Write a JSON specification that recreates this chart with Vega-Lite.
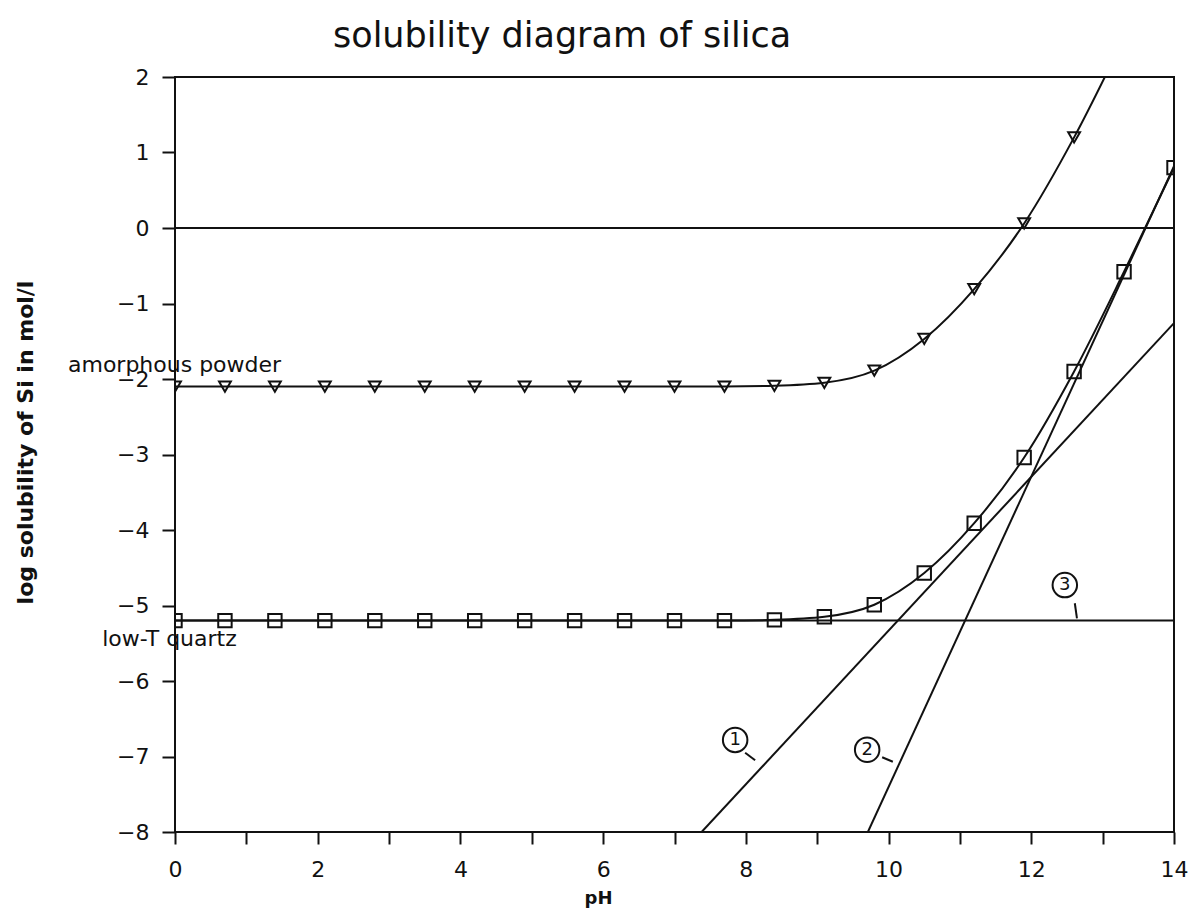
{
  "$schema": "https://vega.github.io/schema/vega-lite/v6.json",
  "width": 999,
  "height": 755,
  "autosize": {"type": "none"},
  "padding": {"left": 175, "top": 77, "right": 23, "bottom": 83},
  "background": "white",
  "config": {
    "view": {"stroke": "#111", "strokeWidth": 2},
    "font": "DejaVu Sans",
    "axis": {"grid": false, "domain": false, "tickColor": "#111", "tickWidth": 2, "labelColor": "#111", "titleColor": "#111", "labelFont": "DejaVu Sans", "titleFont": "DejaVu Sans", "labelFlush": false}
  },
  "title": {
    "text": "solubility diagram of silica",
    "anchor": "start",
    "frame": "group",
    "dx": 158,
    "dy": -8,
    "fontSize": 35,
    "fontWeight": "normal",
    "font": "DejaVu Sans",
    "color": "#111"
  },
  "datasets": {
    "curves": [
      {"phase": "amorphous", "pH": 0, "logS": -2.1},
      {"phase": "amorphous", "pH": 0.7, "logS": -2.1},
      {"phase": "amorphous", "pH": 1.4, "logS": -2.1},
      {"phase": "amorphous", "pH": 2.1, "logS": -2.1},
      {"phase": "amorphous", "pH": 2.8, "logS": -2.1},
      {"phase": "amorphous", "pH": 3.5, "logS": -2.1},
      {"phase": "amorphous", "pH": 4.2, "logS": -2.1},
      {"phase": "amorphous", "pH": 4.9, "logS": -2.1},
      {"phase": "amorphous", "pH": 5.6, "logS": -2.1},
      {"phase": "amorphous", "pH": 6.3, "logS": -2.1},
      {"phase": "amorphous", "pH": 7.0, "logS": -2.1},
      {"phase": "amorphous", "pH": 7.7, "logS": -2.1},
      {"phase": "amorphous", "pH": 8.4, "logS": -2.09},
      {"phase": "amorphous", "pH": 9.1, "logS": -2.05},
      {"phase": "amorphous", "pH": 9.8, "logS": -1.89},
      {"phase": "amorphous", "pH": 10.5, "logS": -1.47},
      {"phase": "amorphous", "pH": 11.2, "logS": -0.81},
      {"phase": "amorphous", "pH": 11.9, "logS": 0.06},
      {"phase": "amorphous", "pH": 12.6, "logS": 1.2},
      {"phase": "amorphous", "pH": 13.3, "logS": 2.52},
      {"phase": "quartz", "pH": 0, "logS": -5.2},
      {"phase": "quartz", "pH": 0.7, "logS": -5.2},
      {"phase": "quartz", "pH": 1.4, "logS": -5.2},
      {"phase": "quartz", "pH": 2.1, "logS": -5.2},
      {"phase": "quartz", "pH": 2.8, "logS": -5.2},
      {"phase": "quartz", "pH": 3.5, "logS": -5.2},
      {"phase": "quartz", "pH": 4.2, "logS": -5.2},
      {"phase": "quartz", "pH": 4.9, "logS": -5.2},
      {"phase": "quartz", "pH": 5.6, "logS": -5.2},
      {"phase": "quartz", "pH": 6.3, "logS": -5.2},
      {"phase": "quartz", "pH": 7.0, "logS": -5.2},
      {"phase": "quartz", "pH": 7.7, "logS": -5.2},
      {"phase": "quartz", "pH": 8.4, "logS": -5.19},
      {"phase": "quartz", "pH": 9.1, "logS": -5.15},
      {"phase": "quartz", "pH": 9.8, "logS": -4.99},
      {"phase": "quartz", "pH": 10.5, "logS": -4.57},
      {"phase": "quartz", "pH": 11.2, "logS": -3.91},
      {"phase": "quartz", "pH": 11.9, "logS": -3.04},
      {"phase": "quartz", "pH": 12.6, "logS": -1.9},
      {"phase": "quartz", "pH": 13.3, "logS": -0.58},
      {"phase": "quartz", "pH": 14, "logS": 0.8}
    ],
    "lines": [
      {"line": "zero", "pH": 0, "logS": 0},
      {"line": "zero", "pH": 14, "logS": 0},
      {"line": "1", "pH": 7.38, "logS": -8},
      {"line": "1", "pH": 14, "logS": -1.26},
      {"line": "2", "pH": 9.71, "logS": -8},
      {"line": "2", "pH": 14, "logS": 0.82},
      {"line": "3", "pH": 0, "logS": -5.2},
      {"line": "3", "pH": 14, "logS": -5.2}
    ],
    "labels": [
      {"pH": -1.5, "logS": -1.81, "text": "amorphous powder"},
      {"pH": -1.02, "logS": -5.44, "text": "low-T quartz"}
    ],
    "callouts": [
      {"pH": 7.85, "logS": -6.78, "text": "1"},
      {"pH": 9.7, "logS": -6.91, "text": "2"},
      {"pH": 12.47, "logS": -4.73, "text": "3"}
    ],
    "leaders": [
      {"pH": 7.99, "logS": -6.95, "pH2": 8.13, "logS2": -7.05},
      {"pH": 9.91, "logS": -7.01, "pH2": 10.06, "logS2": -7.07},
      {"pH": 12.61, "logS": -4.97, "pH2": 12.64, "logS2": -5.17}
    ]
  },
  "encoding": {
    "x": {
      "field": "pH", "type": "quantitative",
      "scale": {"domain": [0, 14], "nice": false, "zero": false},
      "axis": {
        "values": [0,1,2,3,4,5,6,7,8,9,10,11,12,13,14],
        "labelExpr": "datum.value % 2 === 0 ? datum.label : ''",
        "tickSize": 12, "labelPadding": 15, "labelFontSize": 22,
        "title": "pH", "titleFontSize": 18, "titleFontWeight": "bold",
        "titleX": 423, "titleY": 66, "titleBaseline": "middle"
      }
    },
    "y": {
      "field": "logS", "type": "quantitative",
      "scale": {"domain": [-8, 2], "nice": false, "zero": false},
      "axis": {
        "values": [-8,-7,-6,-5,-4,-3,-2,-1,0,1,2],
        "tickSize": 13, "labelPadding": 13, "labelFontSize": 22,
        "title": "log solubility of Si in mol/l", "titleFontSize": 22, "titleFontWeight": "bold",
        "titleX": -150, "titleY": 365, "titleBaseline": "middle"
      }
    }
  },
  "layer": [
    {
      "data": {"name": "lines"},
      "mark": {"type": "line", "color": "#111", "strokeWidth": 2, "clip": true},
      "encoding": {"detail": {"field": "line"}}
    },
    {
      "data": {"name": "curves"},
      "mark": {"type": "line", "color": "#111", "strokeWidth": 2, "interpolate": "monotone", "clip": true},
      "encoding": {"detail": {"field": "phase"}}
    },
    {
      "data": {"name": "curves"},
      "mark": {"type": "point", "filled": false, "color": "#111", "opacity": 1, "strokeWidth": 2, "clip": true},
      "encoding": {
        "shape": {"field": "phase", "type": "nominal", "scale": {"domain": ["amorphous", "quartz"], "range": ["triangle-down", "square"]}, "legend": null},
        "size": {"field": "phase", "type": "nominal", "scale": {"domain": ["amorphous", "quartz"], "range": [140, 180]}, "legend": null}
      }
    },
    {
      "data": {"name": "labels"},
      "mark": {"type": "text", "align": "left", "baseline": "middle", "fontSize": 22, "color": "#111", "font": "DejaVu Sans"},
      "encoding": {"text": {"field": "text"}}
    },
    {
      "data": {"name": "callouts"},
      "mark": {"type": "point", "shape": "circle", "filled": false, "size": 600, "color": "#111", "opacity": 1, "strokeWidth": 2},
      "encoding": {}
    },
    {
      "data": {"name": "callouts"},
      "mark": {"type": "text", "align": "center", "baseline": "middle", "fontSize": 18, "color": "#111", "font": "DejaVu Sans"},
      "encoding": {"text": {"field": "text"}}
    },
    {
      "data": {"name": "leaders"},
      "mark": {"type": "rule", "color": "#111", "strokeWidth": 2},
      "encoding": {"x2": {"field": "pH2"}, "y2": {"field": "logS2"}}
    }
  ]
}
